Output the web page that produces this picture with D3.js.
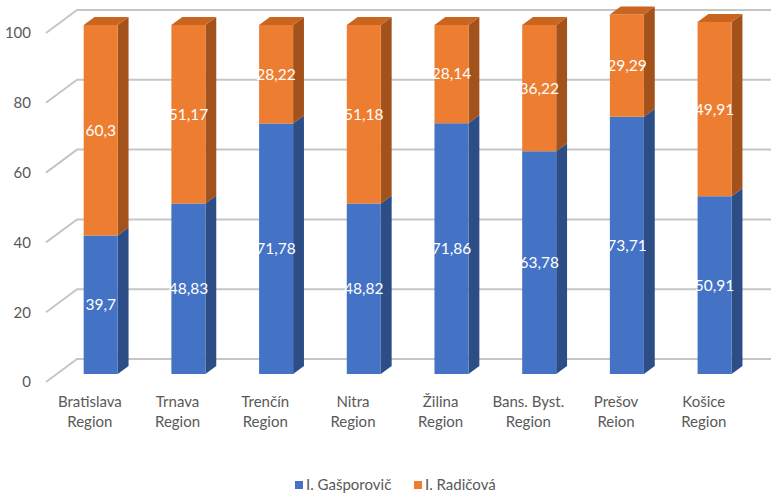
<!DOCTYPE html>
<html>
<head>
<meta charset="utf-8">
<script src="https://cdn.jsdelivr.net/npm/d3@7"></script>
<style>
  html, body { margin: 0; padding: 0; background: #ffffff; }
  svg { display: block; font-family: Lato, "Open Sans", sans-serif; }
</style>
</head>
<body>
<svg id="chart" width="771" height="494"></svg>
<script>
// Regional results of the two candidates (percent of votes)
const categories = [
  ["Bratislava", "Region"],
  ["Trnava", "Region"],
  ["Trenčín", "Region"],
  ["Nitra", "Region"],
  ["Žilina", "Region"],
  ["Bans. Byst.", "Region"],
  ["Prešov", "Reion"],
  ["Košice", "Region"]
];
const seriesNames = ["I. Gašporovič", "I. Radičová"];
const gasparovic = [39.7, 48.83, 71.78, 48.82, 71.86, 63.78, 73.71, 50.91];
const radicova   = [60.3, 51.17, 28.22, 51.18, 28.14, 36.22, 29.29, 49.91];
const yTicks = [0, 20, 40, 60, 80, 100];

const colors = {
  front: ["#4472c4", "#ed7d31"],
  side:  ["#2c4d86", "#a4521c"],
  top:   ["#3a63ad", "#c9651f"]
};

const svg = d3.select("#chart");

// Front plane scales; depth is projected as a shift up and to the right.
const x = d3.scaleBand()
  .domain(categories.map((d, i) => i))
  .range([46, 747.6])
  .paddingInner(0.612)
  .paddingOuter(0.306);
const y = d3.scaleLinear().domain([0, 100]).range([382, 33]);
const depthDX = 31, depthDY = -23;
const proj = (px, v, z) => [px + depthDX * z, y(v) + depthDY * z];

// Gridlines: floor/side diagonal plus the back wall line
const grid = svg.append("g").attr("stroke", "#c6c6c6").attr("stroke-width", 2).attr("fill", "none");
yTicks.forEach(t => {
  const a = proj(46, t, 0), b = proj(46, t, 1);
  grid.append("path").attr("d", `M${a[0]},${a[1]}L${b[0]},${b[1]}L${780},${b[1]}`);
});

// Value axis labels
const yAxis = svg.append("g")
  .attr("transform", "translate(34,0)")
  .call(d3.axisLeft(y).tickValues(yTicks).tickSize(0).tickPadding(3));
yAxis.select(".domain").remove();
yAxis.selectAll("text")
  .attr("fill", "#595959")
  .style("font-family", "Lato, 'Open Sans', sans-serif")
  .style("font-size", "15px");

// Stacked 3D columns
const z0 = 0.35, z1 = 0.70;
const bars = svg.append("g");
const labels = [];
categories.forEach((c, i) => {
  const vals = [gasparovic[i], radicova[i]];
  const xl = x(i), xr = x(i) + x.bandwidth();
  let base = 0;
  vals.forEach((v, s) => {
    const lo = base, hi = base + v;
    const poly = pts => pts.map(p => p.join(",")).join(" ");
    // right side face
    bars.append("polygon")
      .attr("points", poly([proj(xr, lo, z0), proj(xr, lo, z1), proj(xr, hi, z1), proj(xr, hi, z0)]))
      .attr("fill", colors.side[s]);
    // front face
    bars.append("polygon")
      .attr("points", poly([proj(xl, lo, z0), proj(xr, lo, z0), proj(xr, hi, z0), proj(xl, hi, z0)]))
      .attr("fill", colors.front[s]);
    // top face on the last segment
    if (s === vals.length - 1) {
      bars.append("polygon")
        .attr("points", poly([proj(xl, hi, z0), proj(xr, hi, z0), proj(xr, hi, z1), proj(xl, hi, z1)]))
        .attr("fill", colors.top[s]);
    }
    const c0 = proj((xl + xr) / 2, (lo + hi) / 2, z0);
    labels.push({ x: c0[0], y: c0[1], v });
    base = hi;
  });
});

// Data labels
svg.append("g").selectAll("text").data(labels).join("text")
  .attr("x", d => d.x)
  .attr("y", d => d.y)
  .attr("dy", "0.35em")
  .attr("text-anchor", "middle")
  .attr("fill", "#ffffff")
  .style("font-size", "15.5px")
  .text(d => String(d.v).replace(".", ","));

// Category labels
const catG = svg.append("g").attr("fill", "#595959").style("font-size", "15px");
categories.forEach((c, i) => {
  const cx = x(i) + x.bandwidth() / 2;
  const t = catG.append("text").attr("text-anchor", "middle");
  c.forEach((line, k) => {
    t.append("tspan").attr("x", cx).attr("y", 407 + k * 20).text(line);
  });
});

// Legend
const legend = svg.append("g").style("font-size", "15px").attr("fill", "#595959");
const legendX = [295, 414];
seriesNames.forEach((n, s) => {
  legend.append("rect").attr("x", legendX[s]).attr("y", 481).attr("width", 8).attr("height", 8)
    .attr("fill", colors.front[s]);
  legend.append("text").attr("x", legendX[s] + 11).attr("y", 490).text(n);
});
</script>
</body>
</html>
